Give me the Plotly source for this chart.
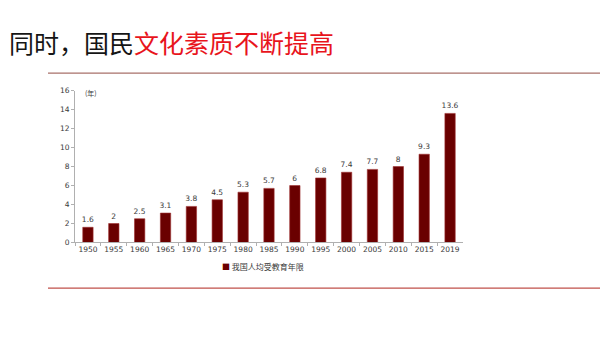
import plotly.graph_objects as go

years = ["1950", "1955", "1960", "1965", "1970", "1975", "1980", "1985",
         "1990", "1995", "2000", "2005", "2010", "2015", "2019"]
values = [1.6, 2, 2.5, 3.1, 3.8, 4.5, 5.3, 5.7, 6, 6.8, 7.4, 7.7, 8, 9.3, 13.6]
value_labels = ["1.6", "2", "2.5", "3.1", "3.8", "4.5", "5.3", "5.7", "6",
                "6.8", "7.4", "7.7", "8", "9.3", "13.6"]
series_name = "我国人均受教育年限"
y_ticks = [0, 2, 4, 6, 8, 10, 12, 14, 16]

W, H = 600, 338

def px(x):
    return x / W

def py(y):
    return 1 - y / H

fig = go.Figure()
fig.add_trace(go.Bar(
    x=years, y=values, name=series_name,
    marker=dict(color="#6a0000", line=dict(color="#a03030", width=0.6)),
    text=value_labels, textposition="outside", constraintext="none",
    textfont=dict(family="DejaVu Sans", size=7.5, color="#3a3a3a"),
    cliponaxis=False, showlegend=False,
))

fig.update_layout(
    width=W, height=H,
    margin=dict(l=0, r=0, t=0, b=0),
    paper_bgcolor="white", plot_bgcolor="white",
    bargap=0.6,
    showlegend=False,
    xaxis=dict(domain=[px(75), px(463)], type="category",
               showline=True, linecolor="#b0b0b0", linewidth=1,
               ticks="outside", tickson="boundaries", ticklen=3, tickcolor="#b0b0b0",
               tickangle=0,
               tickfont=dict(family="DejaVu Sans", size=7.5, color="#3a3a3a"),
               showgrid=False),
    yaxis=dict(domain=[py(245), py(89)], range=[0, 16],
               tickvals=y_ticks,
               showline=True, linecolor="#b0b0b0", linewidth=1,
               ticks="outside", ticklen=3, tickcolor="#b0b0b0",
               tickfont=dict(family="DejaVu Sans", size=7.5, color="#3a3a3a"),
               showgrid=False, zeroline=False),
)

fig.add_annotation(
    xref="paper", yref="paper", x=px(7), y=py(39), xanchor="left", yanchor="middle",
    text="同时，国民<span style='color:#e8141c'>文化素质不断提高</span>",
    showarrow=False,
    font=dict(family="Noto Sans CJK SC", size=25, color="#151515"),
)
fig.add_annotation(
    xref="paper", yref="paper", x=px(83), y=py(91), xanchor="left", yanchor="middle",
    text="(年)", showarrow=False,
    font=dict(family="Noto Sans CJK SC", size=7, color="#3a3a3a"),
)
fig.add_annotation(
    xref="paper", yref="paper", x=px(220), y=py(270), xanchor="left", yanchor="middle",
    text="<span style='color:#6a0000'>■</span> " + series_name, showarrow=False,
    font=dict(family="Noto Sans CJK SC", size=8, color="#3a3a3a"),
)

fig.add_shape(type="line", xref="paper", yref="paper",
              x0=px(48), x1=1, y0=py(71), y1=py(71),
              line=dict(color="#a8706a", width=1.2))
fig.add_shape(type="line", xref="paper", yref="paper",
              x0=px(48), x1=1, y0=py(292), y1=py(292),
              line=dict(color="#c0504a", width=1.2))

fig.write_html("out.html")
